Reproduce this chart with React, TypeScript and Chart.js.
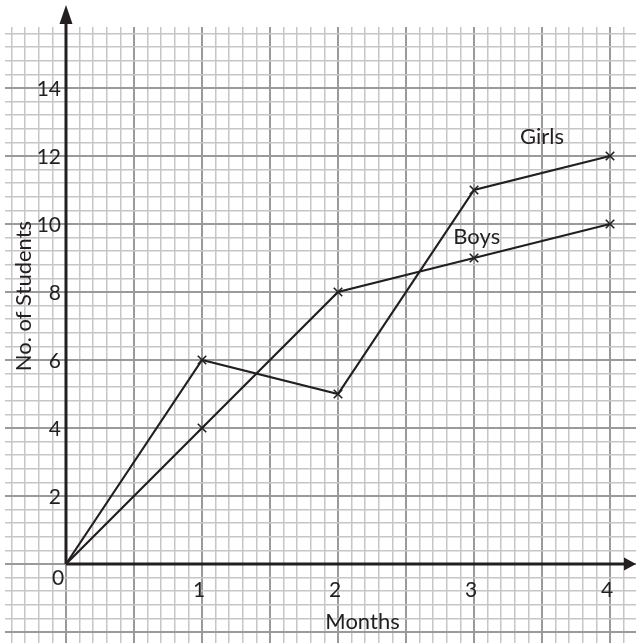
import React, { useEffect, useRef } from "react";
import { Chart, registerables } from "chart.js";

Chart.register(...registerables);

const months = [0, 1, 2, 3, 4];
const girls = [0, 6, 5, 11, 12];
const boys = [0, 4, 8, 9, 10];
const xTickValues = [0, 1, 2, 3, 4];
const xTickLabels = ["0", "1", "2", "3", "4"];
const yTickValues = [2, 4, 6, 8, 10, 12, 14];
const yTickLabels = ["2", "4", "6", "8", "10", "12", "14"];
const seriesNames = ["Girls", "Boys"];
const xTitle = "Months";
const yTitle = "No. of Students";

const INK = "#231f20";
const MINOR = "#c6c6c6";
const MAJOR = "#9a9a9a";
const FONT = "Lato";

function isMultiple(v: number, step: number) {
  const r = v / step;
  return Math.abs(r - Math.round(r)) < 1e-6;
}

const annotate = {
  id: "annotate",
  afterDraw(chart: any) {
    const ctx = chart.ctx as CanvasRenderingContext2D;
    const xs = chart.scales.x;
    const ys = chart.scales.y;
    const area = chart.chartArea;
    const x0 = xs.getPixelForValue(0);
    const y0 = ys.getPixelForValue(0);
    ctx.save();
    // axes
    ctx.strokeStyle = INK;
    ctx.fillStyle = INK;
    ctx.lineWidth = 3;
    ctx.beginPath();
    ctx.moveTo(x0, y0);
    ctx.lineTo(x0, area.top - 6);
    ctx.moveTo(x0, y0);
    ctx.lineTo(area.right - 10, y0);
    ctx.stroke();
    // arrow heads
    ctx.beginPath();
    ctx.moveTo(x0, area.top - 22);
    ctx.lineTo(x0 - 6.5, area.top - 3);
    ctx.lineTo(x0 + 6.5, area.top - 3);
    ctx.closePath();
    ctx.fill();
    ctx.beginPath();
    ctx.moveTo(area.right, y0);
    ctx.lineTo(area.right - 12, y0 - 6.5);
    ctx.lineTo(area.right - 12, y0 + 6.5);
    ctx.closePath();
    ctx.fill();

    // tick labels
    ctx.font = `21px ${FONT}`;
    ctx.textBaseline = "middle";
    ctx.textAlign = "center";
    xTickValues.forEach((v, i) => {
      if (v === 0) {
        ctx.fillText(xTickLabels[i], x0 - 8, y0 + 14);
      } else {
        ctx.fillText(xTickLabels[i], xs.getPixelForValue(v) - 3, y0 + 26);
      }
    });
    ctx.textAlign = "right";
    yTickValues.forEach((v, i) => {
      ctx.fillText(yTickLabels[i], x0 - 5, ys.getPixelForValue(v) + 1);
    });

    // titles
    ctx.font = `22px ${FONT}`;
    ctx.textAlign = "center";
    ctx.fillText(xTitle, xs.getPixelForValue(2.18), y0 + 58);
    ctx.save();
    ctx.translate(area.left + 19, ys.getPixelForValue(7.88));
    ctx.rotate(-Math.PI / 2);
    ctx.fillText(yTitle, 0, 0);
    ctx.restore();

    // series labels
    ctx.fillText(seriesNames[0], xs.getPixelForValue(3.5), ys.getPixelForValue(12.56));
    ctx.fillText(seriesNames[1], xs.getPixelForValue(3.02), ys.getPixelForValue(9.62));
    ctx.restore();
  },
};

export default function App() {
  const ref = useRef<HTMLCanvasElement | null>(null);
  useEffect(() => {
    document.body.style.margin = "0";
    const canvas = ref.current!;
    const mk = (name: string, data: number[]) => ({
      label: name,
      data: months.map((m, i) => ({ x: m, y: data[i] })),
      borderColor: INK,
      backgroundColor: INK,
      borderWidth: 2.2,
      pointStyle: "crossRot" as const,
      pointRadius: months.map((m) => (m === 0 ? 0 : 6)),
      pointBorderWidth: 1.6,
      pointBorderColor: INK,
      tension: 0,
      fill: false,
    });
    const chart = new Chart(canvas, {
      type: "line",
      data: { datasets: [mk(seriesNames[0], girls), mk(seriesNames[1], boys)] },
      options: {
        animation: false,
        responsive: false,
        events: [],
        layout: { autoPadding: false, padding: { left: 5, top: 27, right: 0, bottom: 0 } },
        plugins: { legend: { display: false }, tooltip: { enabled: false } },
        scales: {
          x: {
            type: "linear",
            min: -0.4485,
            max: 4.191,
            afterBuildTicks: (s: any) => {
              const t = [];
              for (let k = -4; k <= 41; k++) t.push({ value: k / 10 });
              s.ticks = t;
            },
            ticks: { display: false },
            border: { display: false },
            grid: {
              drawTicks: false,
              color: (c: any) => (isMultiple(c.tick.value, 0.5) ? MAJOR : MINOR),
              lineWidth: (c: any) => (isMultiple(c.tick.value, 0.5) ? 2 : 1.5),
            },
          },
          y: {
            type: "linear",
            min: -2.3235,
            max: 15.794,
            afterBuildTicks: (s: any) => {
              const t = [];
              for (let k = -5; k <= 39; k++) t.push({ value: k * 0.4 });
              s.ticks = t;
            },
            ticks: { display: false },
            border: { display: false },
            grid: {
              drawTicks: false,
              color: (c: any) => (isMultiple(c.tick.value, 2) ? MAJOR : MINOR),
              lineWidth: (c: any) => (isMultiple(c.tick.value, 2) ? 2 : 1.5),
            },
          },
        },
      },
      plugins: [annotate],
    });
    return () => chart.destroy();
  }, []);
  return (
    <canvas
      ref={ref}
      width={636}
      height={643}
      style={{ display: "block", width: 636, height: 643, background: "#fff" }}
    />
  );
}
